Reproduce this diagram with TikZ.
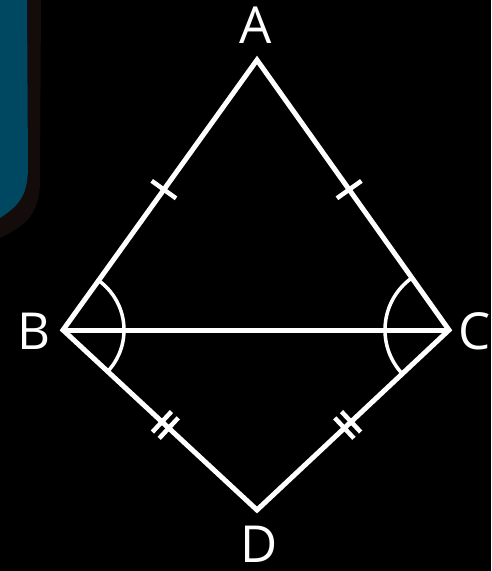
\documentclass[tikz,border=0pt]{standalone}
\usepackage{fontspec}
\setmainfont{Open Sans}
\usetikzlibrary{calc}
\definecolor{teal1}{HTML}{004862}
\definecolor{rim}{HTML}{140B0B}
\begin{document}
\begin{tikzpicture}[x=1pt,y=-1pt,
  edge/.style={white,line width=5pt,line join=miter},
  tick/.style={white,line width=4.5pt},
  arcmark/.style={white,line width=3.5pt},
  lab/.style={white,font=\fontsize{51}{51}\selectfont,inner sep=0pt}]
\fill[black] (0,0) rectangle (491,571);
\useasboundingbox (0,0) rectangle (491,571);
% teal shape
\fill[rim] (0,0) -- (41,0) -- (40,180) .. controls (40,215) and (25,226) .. (0,238) -- cycle;
\fill[teal1] (0,0) -- (27,0) -- (28,170) .. controls (27,195) and (20,205) .. (0,218) -- cycle;
% vertices
\coordinate (A) at (257,60);
\coordinate (B) at (63,330);
\coordinate (C) at (449,330);
\coordinate (D) at (257,510);
% angle arcs
\begin{scope}
\clip (A) -- (B) -- (D) -- (C) -- cycle;
\draw[arcmark] (B) circle (61);
\draw[arcmark] (C) circle (64);
\end{scope}
\draw[edge] (A) -- (B) -- (D) -- (C) -- cycle;
\draw[edge] (B) -- (C);
% ticks
\draw[tick] ($(B)!0.52!(A)!15pt!90:(A)$) -- ($(B)!0.52!(A)!15pt!-90:(A)$);
\draw[tick] ($(C)!0.52!(A)!15pt!90:(A)$) -- ($(C)!0.52!(A)!15pt!-90:(A)$);
\foreach \t in {0.51,0.545}{
\draw[tick] ($(B)!\t!(D)!14pt!90:(D)$) -- ($(B)!\t!(D)!14pt!-90:(D)$);
\draw[tick] ($(C)!\t!(D)!14pt!90:(D)$) -- ($(C)!\t!(D)!14pt!-90:(D)$);
}
% labels
\node[lab] (la) at (256,25) {A};
\node[lab] (lb) at (34,331) {B};
\node[lab] (lc) at (475,331) {C};
\node[lab] (ld) at (259,544) {D};
\end{tikzpicture}
\end{document}
